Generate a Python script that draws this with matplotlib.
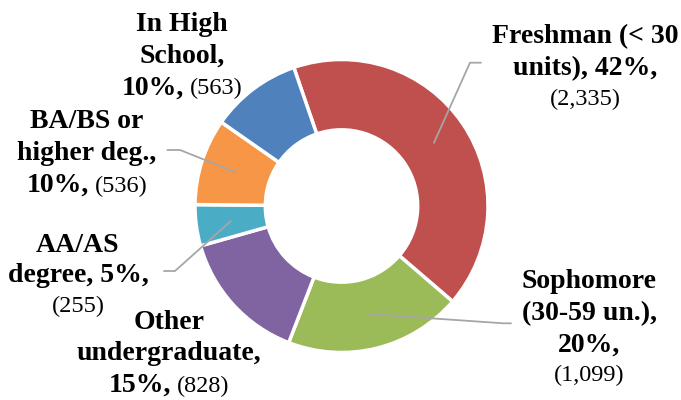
import numpy as np
import matplotlib
matplotlib.use('Agg')
import matplotlib.pyplot as plt

plt.rcParams['font.family'] = ['Liberation Serif', 'DejaVu Serif']

# data (clockwise from the top)
categories = ['Freshman (< 30 units)', 'Sophomore (30-59 un.)', 'Other undergraduate',
              'AA/AS degree', 'BA/BS or higher deg.', 'In High School']
counts = [2335, 1099, 828, 255, 536, 563]
colors = ['#C0504D', '#9BBB59', '#8064A2', '#4BACC6', '#F79646', '#4F81BD']

# label text, "|" = line break, {p} = percent, {n} = count (regular weight)
label_text = ['Freshman (< 30|units), {p},|{n}',
              'Sophomore|(30-59 un.),|{p},|{n}',
              'Other|undergraduate,|{p}, {n}',
              'AA/AS|degree, {p},|{n}',
              'BA/BS or|higher deg.,|{p}, {n}',
              'In High|School,|{p}, {n}']

W, H = 681, 400
fig = plt.figure(figsize=(W/100, H/100), dpi=100)
ax = fig.add_axes([0, 0, 1, 1])

R = 146.5
cx0, cy0 = 341.5, H - 206
wedges, _ = ax.pie(counts, colors=colors, startangle=109, counterclock=False,
                   radius=R, center=(cx0, cy0),
                   wedgeprops=dict(width=R*0.48, edgecolor='white', linewidth=2.5))
ax.set_xlim(0, W)
ax.set_ylim(0, H)
ax.set_aspect('auto')
ax.axis('off')

total = sum(counts)
renderer = fig.canvas.get_renderer()

# layout: centre x of label block and baselines (pixels from top)
label_pos = [(585, [42.7, 75, 105]),
             (589, [288, 320, 352, 381]),
             (169, [329, 360, 392]),
             (78, [252, 282.5, 312]),
             (87, [128.3, 159.5, 191.7]),
             (182, [31, 62.7, 94.3])]

BOLD = 20
REG = 17.5

def draw_label(cx, baselines, template, pct, n):
    lines = template.split('|')
    for by, line in zip(baselines, lines):
        line = line.replace('{p}', '%d%%' % pct)
        segs = []
        if '{n}' in line:
            head = line.replace('{n}', '').rstrip()
            if head:
                segs.append((head, True))
            segs.append(('(%s)' % format(n, ','), False))
        else:
            segs.append((line, True))
        txts = []
        for s, bold in segs:
            t = ax.text(0, H - by, s, fontsize=BOLD if bold else REG,
                        fontweight='bold' if bold else 'normal',
                        va='baseline', ha='left', color='black')
            txts.append(t)
        widths = [t.get_window_extent(renderer).width for t in txts]
        gap = 6 if len(txts) > 1 else 0
        x = cx - (sum(widths) + gap) / 2
        for t, w in zip(txts, widths):
            t.set_x(x)
            x += w + gap

for i in range(len(counts)):
    pct = round(100 * counts[i] / total)
    draw_label(label_pos[i][0], label_pos[i][1], label_text[i], pct, counts[i])

# leader lines: from wedge middle to elbow and end (pixels from top)
leaders = {0: [(470, 62.7), (481.7, 62.7)],
           1: [(503.3, 323.3), (511.7, 323.3)],
           3: [(175, 271), (163.3, 271)],
           4: [(180, 150), (166.7, 150)]}
for i, pts in leaders.items():
    w = wedges[i]
    ang = np.deg2rad((w.theta1 + w.theta2) / 2)
    rm = R - w.width / 2
    ax_ = cx0 + rm * np.cos(ang)
    ay_ = cy0 + rm * np.sin(ang)
    xs = [ax_] + [p[0] for p in pts]
    ys = [ay_] + [H - p[1] for p in pts]
    ax.plot(xs, ys, color='#A6A6A6', lw=1.3, solid_capstyle='butt')

fig.savefig('out.png', dpi=100)
